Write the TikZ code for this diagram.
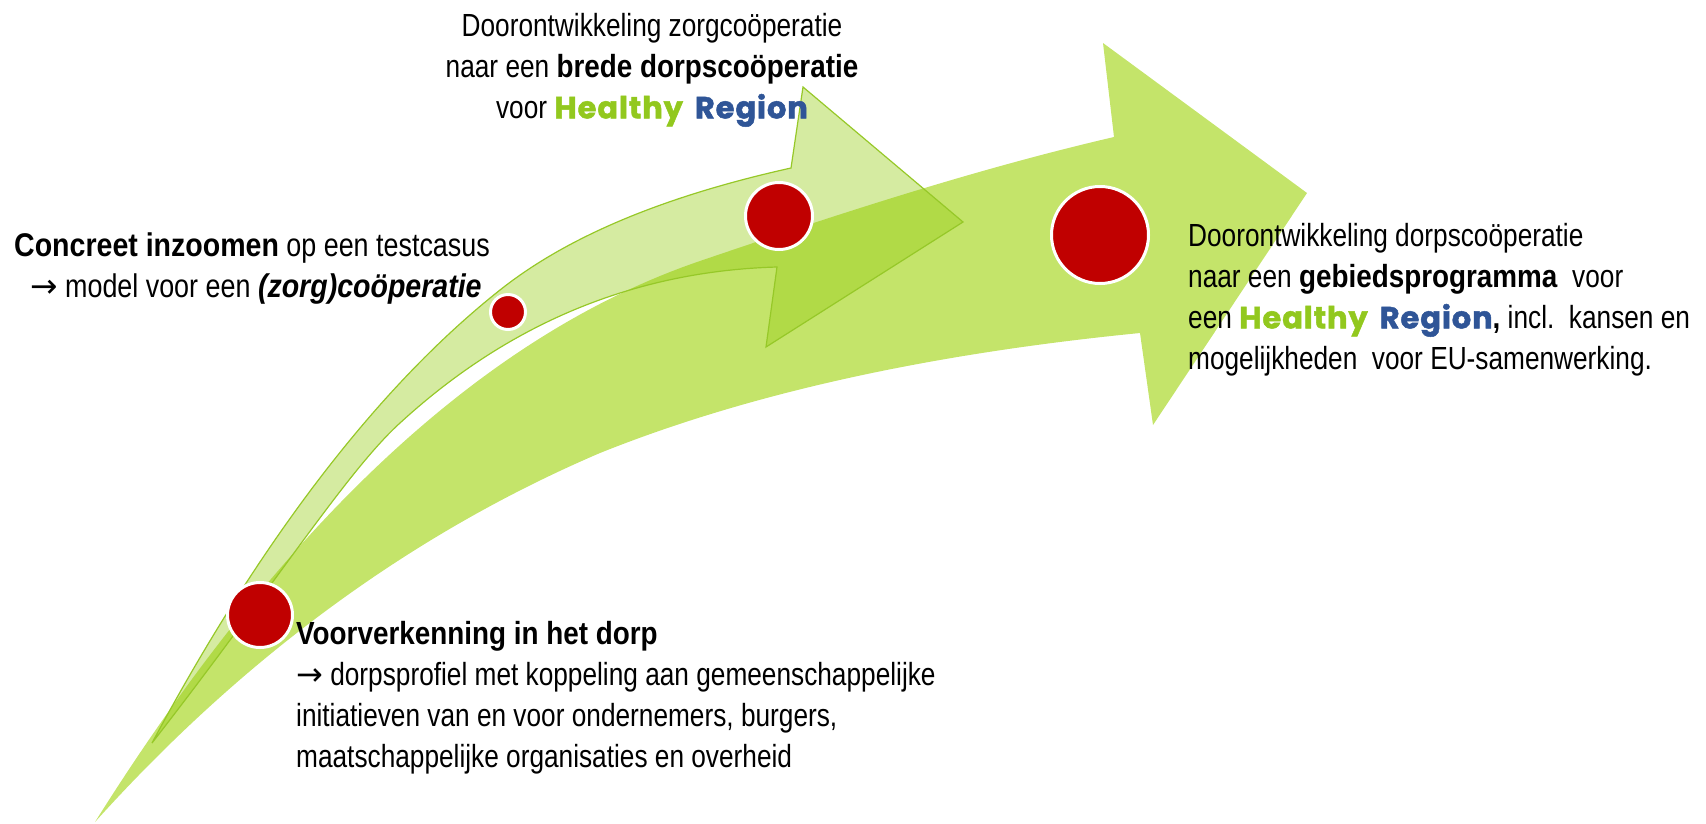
\documentclass[tikz,border=0pt]{standalone}
\usepackage{fontspec}
\setmainfont{Liberation Sans}[UprightFeatures={FakeStretch=0.82},ItalicFeatures={FakeStretch=0.82},
  BoldFeatures={FakeStretch=0.87},BoldItalicFeatures={FakeStretch=0.87}]
\newfontfamily\hrfont{Poppins}[BoldFeatures={FakeBold=1.6},LetterSpace=3]
\newfontfamily\arrowfont{DejaVu Sans}
\definecolor{bigarrow}{RGB}{196,228,106}
\definecolor{smallarrow}{RGB}{150,204,20}
\definecolor{smalledge}{RGB}{150,200,40}
\definecolor{dotred}{RGB}{192,0,0}
\definecolor{hgreen}{RGB}{146,200,30}
\definecolor{rblue}{RGB}{47,85,151}
\newcommand{\healthy}{{\hrfont\bfseries\fontsize{30.5}{30}\selectfont\color{hgreen}Healthy}}
\newcommand{\region}{{\hrfont\bfseries\fontsize{30.5}{30}\selectfont\color{rblue}Region}}
\newcommand{\pijl}{{\arrowfont →}}

\begin{document}
\begin{tikzpicture}[x=1pt,y=1pt,yscale=-1,xscale=1,
  dot/.style={circle,fill=dotred,draw=white,line width=3pt,inner sep=0pt},
  txt/.style={inner sep=0pt,font=\fontsize{32}{41}\selectfont}]
\path[use as bounding box] (0,0) rectangle (1706,823);

%Big arrow
\fill [bigarrow] (95,822) .. controls (284,521) and (486,334) .. (700,261)
  .. controls (838,214) and (976,169) .. (1114,137) -- (1103,43) -- (1307,193) -- (1153,425) -- (1140,333)
  .. controls (927,354) and (747,394) .. (600,453)
  .. controls (420,530) and (250,650) .. (95,822) -- cycle ;
%Small arrow
\draw [smalledge,line width=1.2pt,fill=smallarrow,fill opacity=0.4] (152,743) .. controls (263,536) and (380,385) .. (500,290)
  .. controls (568,236) and (665,196) .. (791,168) -- (803,87) -- (963,222) -- (766,347) -- (777,267)
  .. controls (635,271) and (509,323) .. (400,423)
  .. controls (347,471) and (275,585) .. (152,743) -- cycle ;

%Dots
\node [dot,minimum size=65pt] (dorp) at (260,615) {};
\node [dot,minimum size=35pt] (test) at (508,312) {};
\node [dot,minimum size=67pt] (zorg) at (779,216) {};
\node [dot,minimum size=97pt] (gebied) at (1100,235) {};

%Texts
\node [txt,anchor=north,align=center] (zorgtxt) at (652,13)
  {Doorontwikkeling zorgcoöperatie\\naar een \textbf{brede dorpscoöperatie}\\voor \healthy\hspace{12pt}\region};
\node [txt,anchor=north west,align=left,font=\fontsize{32.8}{41}\selectfont] (testtxt) at (14,233)
  {\textbf{Concreet inzoomen} op een testcasus\\\hspace{16pt}\pijl\ model voor een \textbf{\textit{(zorg)coöperatie}}};
\node [txt,anchor=north west,align=left] (gebiedtxt) at (1188,223)
  {Doorontwikkeling dorpscoöperatie\\naar een \textbf{gebiedsprogramma}\ \ voor\\een \healthy\hspace{12pt}\region\textbf{,} incl.\ \ kansen en\\mogelijkheden\ \ voor EU-samenwerking.};
\node [txt,anchor=north west,align=left] (dorptxt) at (296,621)
  {\textbf{Voorverkenning in het dorp}\\\pijl\ dorpsprofiel met koppeling aan gemeenschappelijke\\initiatieven van en voor ondernemers, burgers,\\maatschappelijke organisaties en overheid};
\end{tikzpicture}
\end{document}
